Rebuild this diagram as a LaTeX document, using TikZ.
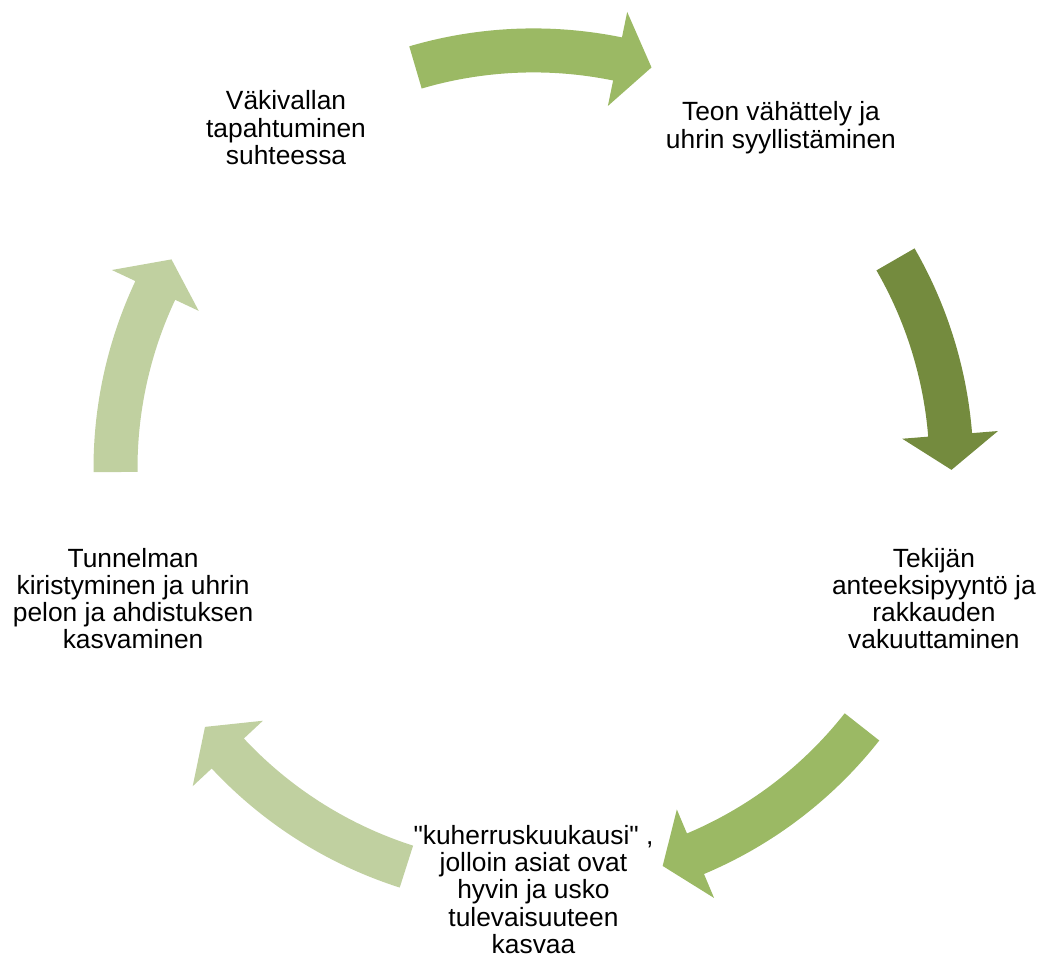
\documentclass[tikz,border=0pt]{standalone}
\usepackage{fontspec}
\setmainfont{Liberation Sans}
\definecolor{arrowmid}{RGB}{155,185,100}
\definecolor{arrowdark}{RGB}{116,139,62}
\definecolor{arrowlight}{RGB}{192,208,160}

% colour, tail angle, head base angle, tip angle
\newcommand{\cyclearrow}[4]{%
  \fill[#1] (#2:8.80) arc[start angle=#2, end angle=#3, radius=8.80]
    -- (#3:9.32) -- (#4:8.36) -- (#3:7.40) -- (#3:7.92)
    arc[start angle=#3, end angle=#2, radius=7.92] -- cycle;}

\begin{document}
\begin{tikzpicture}[
		phase/.style={align=center,inner sep=0pt,font=\fontsize{15}{15.5}\selectfont}
		]
		\useasboundingbox (-10.67,-9.792) rectangle (10.17,9.368);
		\coordinate (C) at (0,0);

		\node[phase] (S1) at (126:8.42) {Väkivallan\\tapahtuminen\\suhteessa};
		\node[phase] (S2) at (54:8.42) {Teon vähättely ja\\uhrin syyllistäminen};
		\node[phase] (S3) at (-18:8.42) {Tekijän\\anteeksipyyntö ja\\rakkauden\\vakuuttaminen};
		\node[phase] (S4) at (-90:8.42) {\textquotedbl kuherruskuukausi\textquotedbl{} ,\\jolloin asiat ovat\\hyvin ja usko\\tulevaisuuteen\\kasvaa};
		\node[phase] (S5) at (198:8.42) {Tunnelman\\kiristyminen ja uhrin\\pelon ja ahdistuksen\\kasvaminen};

		\cyclearrow{arrowmid}{106.4}{78.4}{73.6}
		\cyclearrow{arrowdark}{30.0}{4.6}{-0.2}
		\cyclearrow{arrowmid}{-38.2}{-67.2}{-72.0}
		\cyclearrow{arrowlight}{-107.7}{-137.0}{-141.8}
		\cyclearrow{arrowlight}{180.5}{154.8}{150.0}

	\end{tikzpicture}
\end{document}
